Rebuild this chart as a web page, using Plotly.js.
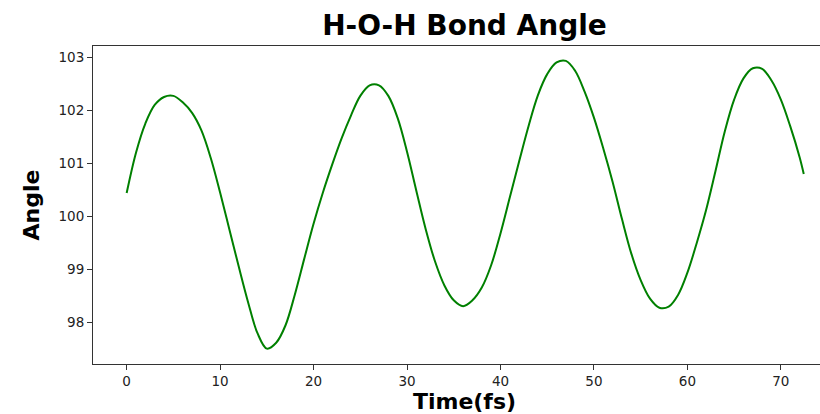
<!DOCTYPE html>
<html>
<head>
<meta charset="utf-8">
<script src="https://cdn.plot.ly/plotly-3.0.1.min.js"></script>
<style>
  html, body { margin: 0; padding: 0; overflow: hidden; background: #fff; }
  #chart { width: 836px; height: 414px; }
</style>
</head>
<body>
<div id="chart"></div>
<script>
// Time (fs) and H-O-H angle (degrees)
const timeFs = [0, 1, 2, 3, 4, 5, 6, 7, 8, 9, 10, 11, 12, 13, 14, 15, 16, 17, 18, 19, 20, 21, 22, 23, 24, 25, 26, 27, 28, 29, 30, 31, 32, 33, 34, 35, 36, 37, 38, 39, 40, 41, 42, 43, 44, 45, 46, 47, 48, 49, 50, 51, 52, 53, 54, 55, 56, 57, 58, 59, 60, 61, 62, 63, 64, 65, 66, 67, 68, 69, 70, 71, 72, 72.45];
const angleDeg = [100.44, 101.20, 101.75, 102.10, 102.25, 102.27, 102.15, 101.95, 101.62, 101.10, 100.45, 99.75, 99.05, 98.38, 97.80, 97.51, 97.62, 97.95, 98.53, 99.20, 99.86, 100.45, 100.98, 101.47, 101.90, 102.27, 102.47, 102.47, 102.27, 101.85, 101.22, 100.48, 99.76, 99.15, 98.70, 98.42, 98.31, 98.42, 98.66, 99.08, 99.68, 100.36, 101.04, 101.70, 102.28, 102.68, 102.90, 102.93, 102.74, 102.35, 101.86, 101.28, 100.65, 99.95, 99.30, 98.80, 98.45, 98.28, 98.30, 98.52, 98.94, 99.50, 100.12, 100.85, 101.60, 102.20, 102.60, 102.79, 102.78, 102.56, 102.20, 101.70, 101.12, 100.80];
const xTicks = [0, 10, 20, 30, 40, 50, 60, 70];
const yTicks = [98, 99, 100, 101, 102, 103];

const trace = {
  x: timeFs,
  y: angleDeg,
  type: 'scatter',
  mode: 'lines',
  line: { color: '#008000', width: 2, shape: 'spline', smoothing: 1 },
  hoverinfo: 'x+y'
};

const axisCommon = {
  showgrid: false,
  zeroline: false,
  showline: true,
  linecolor: '#333',
  linewidth: 1,
  mirror: true,
  ticks: 'outside',
  ticklen: 5,
  tickwidth: 1,
  tickcolor: '#333',
  tickfont: { family: 'DejaVu Sans', size: 13.5, color: '#222' },
  automargin: false
};

const layout = {
  width: 836,
  height: 414,
  margin: { l: 93, r: 0, t: 46, b: 50, pad: 0 },
  paper_bgcolor: '#fff',
  plot_bgcolor: '#fff',
  showlegend: false,
  title: {
    text: '<b>H-O-H Bond Angle</b>',
    font: { family: 'DejaVu Sans', size: 28, color: '#000' },
    xref: 'paper', x: 0.5, xanchor: 'center',
    yref: 'container', y: 1 - 25 / 414, yanchor: 'middle'
  },
  xaxis: Object.assign({}, axisCommon, {
    range: [-3.6, 75.9],
    tickvals: xTicks,
    ticktext: xTicks.map(String),
    title: { text: '<b>Time(fs)</b>', font: { family: 'DejaVu Sans', size: 22, color: '#000' }, standoff: 6 }
  }),
  yaxis: Object.assign({}, axisCommon, {
    range: [97.22, 103.21],
    tickvals: yTicks,
    ticktext: yTicks.map(String),
    title: { text: '<b>Angle</b>', font: { family: 'DejaVu Sans', size: 22, color: '#000' }, standoff: 12 }
  })
};

Plotly.newPlot('chart', [trace], layout, { displayModeBar: false, staticPlot: true });
</script>
</body>
</html>
